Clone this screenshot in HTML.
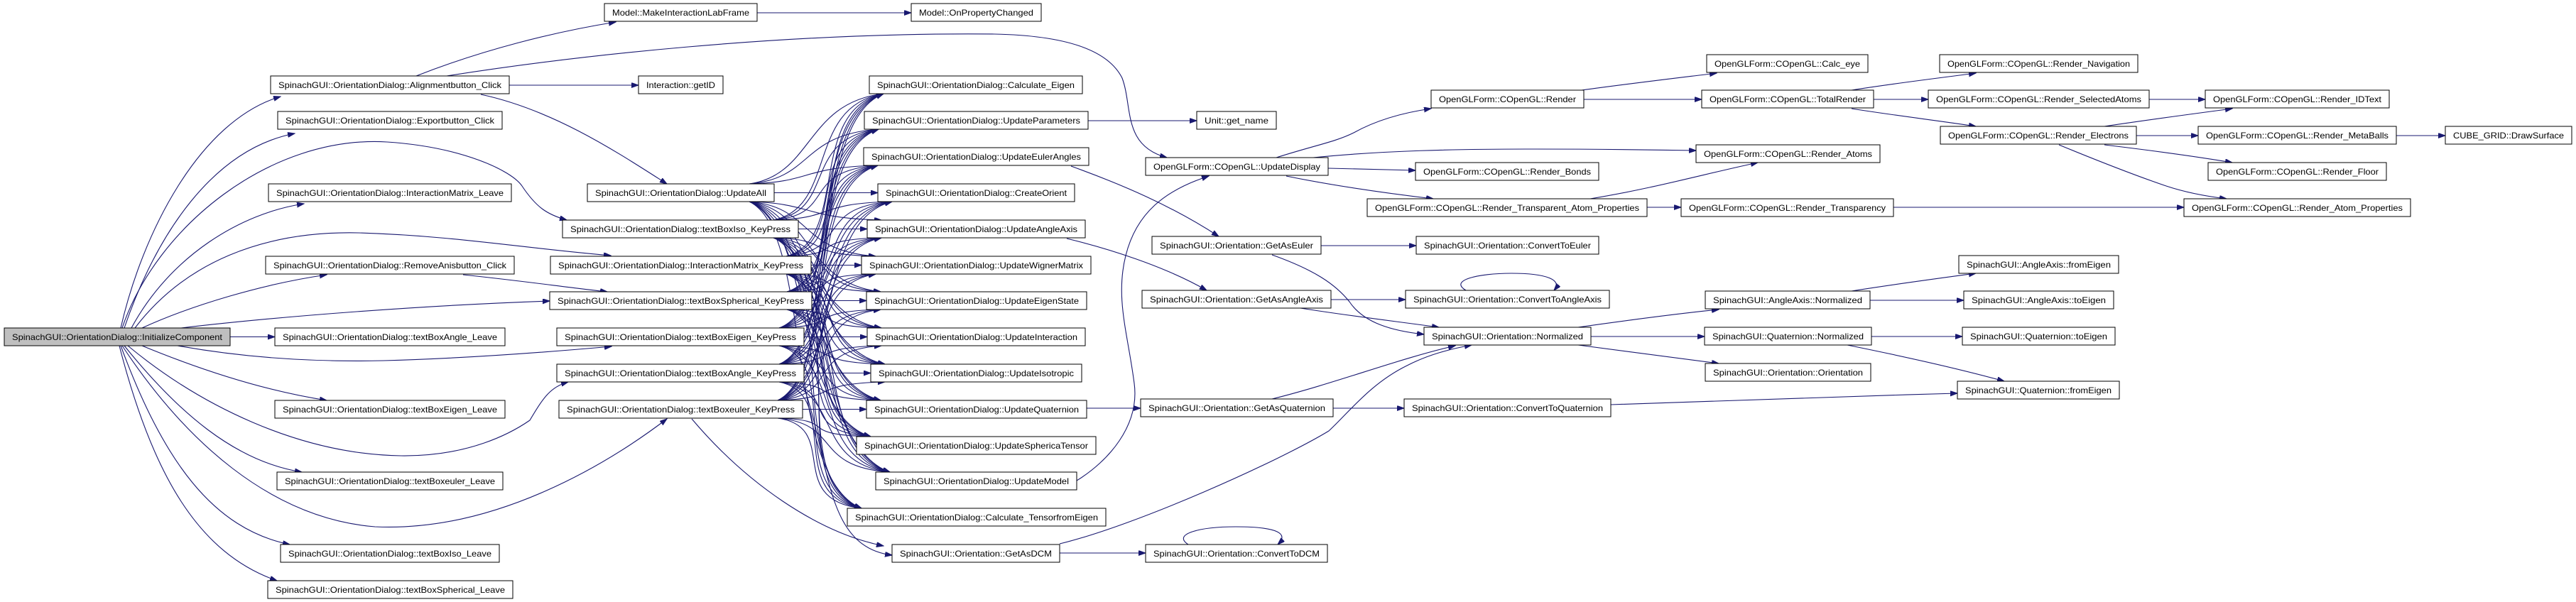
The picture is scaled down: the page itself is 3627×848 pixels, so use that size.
<!DOCTYPE html>
<html><head><meta charset="utf-8"><style>
html,body{margin:0;padding:0;background:#fff;}
svg{display:block}
text{font-family:"Liberation Sans",sans-serif;font-size:12px;fill:#000}
.n{fill:#fff;stroke:#000;stroke-width:1}
.e{fill:none;stroke:#191970;stroke-width:1.1}
</style></head><body>
<svg id="g" width="3627" height="848" viewBox="0 0 3627 848" xmlns="http://www.w3.org/2000/svg">
<defs><marker id="a" markerUnits="userSpaceOnUse" markerWidth="11" markerHeight="8" refX="10" refY="3.5" orient="auto"><path d="M0,0 L10,3.5 L0,7 z" fill="#191970" stroke="#191970"/></marker></defs>
<g id="edges" marker-end="url(#a)">
<path class="e" d="M170,462 C200,330 280,170 395,136"/>
<path class="e" d="M175,462 C220,330 300,210 415,188"/>
<path class="e" d="M172,462 C220,320 380,190 545,200 C650,207 720,240 735,262 C755,292 770,302 798,310"/>
<path class="e" d="M185,462 C240,360 340,300 428,287"/>
<path class="e" d="M190,462 C260,370 370,325 505,328 C640,332 740,350 860,360"/>
<path class="e" d="M200,462 C270,430 370,400 460,387"/>
<path class="e" d="M255,462 C400,445 600,430 774,424"/>
<path class="e" d="M324,474.5 L387,474.5"/>
<path class="e" d="M250,487 C350,505 450,510 540,508 C650,505 760,497 861,488"/>
<path class="e" d="M200,487 C280,520 370,550 460,564"/>
<path class="e" d="M180,487 C280,570 420,640 565,642 C660,643 720,610 746,592 C765,560 775,545 800,538"/>
<path class="e" d="M175,487 C250,580 330,650 425,665"/>
<path class="e" d="M172,487 C260,620 380,730 528,742 C700,750 860,650 939,590"/>
<path class="e" d="M170,487 C230,650 300,745 408,767"/>
<path class="e" d="M168,487 C215,670 280,780 390,818"/>
<path class="e" d="M586,107 C680,70 780,45 867,31"/>
<path class="e" d="M629,107 C800,80 1100,45 1400,48 C1500,50 1560,70 1580,110 C1595,150 1580,205 1643,222"/>
<path class="e" d="M717,120 L899,120"/>
<path class="e" d="M677,133 C780,155 870,215 939,259"/>
<path class="e" d="M1066,18 L1283,18"/>
<path class="e" d="M652,387 C730,395 800,405 855,411"/>
<path class="e" d="M974,590 C1050,680 1150,750 1244,769"/>
<path class="e" d="M1130,540 C1170,650 1160,770 1256,782"/>
<path class="e" d="M1532,170 L1685,170"/>
<path class="e" d="M1508,234 C1580,260 1650,290 1716,333"/>
<path class="e" d="M1502,336 C1560,350 1640,375 1699,409"/>
<path class="e" d="M1516,575 L1606,575"/>
<path class="e" d="M1516,677 C1560,650 1605,600 1597,540 C1588,470 1570,420 1585,360 C1600,300 1640,268 1702,248"/>
<path class="e" d="M1492,766 C1600,740 1800,650 1871,607 C1900,580 1930,540 1981,515 C2010,500 2040,492 2072,486"/>
<path class="e" d="M1791,562 C1880,540 1970,505 2049,487"/>
<path class="e" d="M1791,359 C1850,380 1880,400 1900,425 C1920,455 1960,466 2005,471"/>
<path class="e" d="M1831,434 C1900,445 1960,452 2026,461"/>
<path class="e" d="M1860,346 L1994,346"/>
<path class="e" d="M1874,422 L1979,422"/>
<path class="e" d="M1877,575 L1977,575"/>
<path class="e" d="M1869,779 L1613,779" marker-end="none" style="display:none"/>
<path class="e" d="M1492,779 L1613,779"/>
<path class="e" d="M2064,409 C2040,395 2080,385 2128,385 C2180,385 2200,395 2188,409"/>
<path class="e" d="M1673,767 C1650,752 1690,742 1740,742 C1800,742 1815,752 1799,767"/>
<path class="e" d="M1797,222 C1850,205 1880,200 1906,187 C1940,168 1980,158 2015,153"/>
<path class="e" d="M1849,222 C1950,212 2050,210 2150,210 C2250,210 2330,211 2388,212"/>
<path class="e" d="M1870,237 L1993,240"/>
<path class="e" d="M1811,248 C1880,262 1950,272 2018,280"/>
<path class="e" d="M2227,127 C2300,117 2360,110 2417,103"/>
<path class="e" d="M2230,140 L2396,140"/>
<path class="e" d="M2607,127 C2670,117 2730,110 2782,103"/>
<path class="e" d="M2638,140 L2715,140"/>
<path class="e" d="M2607,153 C2670,163 2730,170 2782,178"/>
<path class="e" d="M2239,280 C2330,265 2400,245 2475,229"/>
<path class="e" d="M2319,292 L2367,292"/>
<path class="e" d="M2666,292 L3075,292"/>
<path class="e" d="M3026,140 L3105,140"/>
<path class="e" d="M2963,178 C3030,168 3090,160 3143,153"/>
<path class="e" d="M3008,191 L3095,191"/>
<path class="e" d="M2963,204 C3030,212 3090,220 3143,229"/>
<path class="e" d="M2899,204 C2950,225 3000,245 3050,262 C3080,272 3110,277 3135,280"/>
<path class="e" d="M3374,191 L3443,191"/>
<path class="e" d="M2222,461 C2300,450 2360,442 2420,436"/>
<path class="e" d="M2240,474 L2400,474"/>
<path class="e" d="M2222,486 C2300,496 2360,504 2420,512"/>
<path class="e" d="M2268,570 C2450,565 2600,558 2756,554"/>
<path class="e" d="M2607,410 C2670,400 2730,392 2782,385"/>
<path class="e" d="M2633,423 L2765,423"/>
<path class="e" d="M2635,474 L2763,474"/>
<path class="e" d="M2601,486 C2680,502 2760,520 2822,537"/>
</g>
<g id="tangle" marker-end="url(#a)"></g>

<g>
<rect x="6" y="462" width="318" height="25" fill="#bfbfbf" stroke="#000"/><text x="17" y="479" textLength="296" lengthAdjust="spacingAndGlyphs">SpinachGUI::OrientationDialog::InitializeComponent</text>
<rect class="n" x="381" y="107" width="336" height="25"/><text x="392" y="124" textLength="314" lengthAdjust="spacingAndGlyphs">SpinachGUI::OrientationDialog::Alignmentbutton_Click</text>
<rect class="n" x="391" y="157" width="316" height="25"/><text x="402" y="174" textLength="294" lengthAdjust="spacingAndGlyphs">SpinachGUI::OrientationDialog::Exportbutton_Click</text>
<rect class="n" x="378" y="259" width="342" height="25"/><text x="389" y="276" textLength="320" lengthAdjust="spacingAndGlyphs">SpinachGUI::OrientationDialog::InteractionMatrix_Leave</text>
<rect class="n" x="374" y="361" width="350" height="25"/><text x="385" y="378" textLength="328" lengthAdjust="spacingAndGlyphs">SpinachGUI::OrientationDialog::RemoveAnisbutton_Click</text>
<rect class="n" x="387" y="462" width="324" height="25"/><text x="398" y="479" textLength="302" lengthAdjust="spacingAndGlyphs">SpinachGUI::OrientationDialog::textBoxAngle_Leave</text>
<rect class="n" x="387" y="564" width="324" height="25"/><text x="398" y="581" textLength="302" lengthAdjust="spacingAndGlyphs">SpinachGUI::OrientationDialog::textBoxEigen_Leave</text>
<rect class="n" x="390" y="665" width="318" height="25"/><text x="401" y="682" textLength="296" lengthAdjust="spacingAndGlyphs">SpinachGUI::OrientationDialog::textBoxeuler_Leave</text>
<rect class="n" x="395" y="767" width="308" height="25"/><text x="406" y="784" textLength="286" lengthAdjust="spacingAndGlyphs">SpinachGUI::OrientationDialog::textBoxIso_Leave</text>
<rect class="n" x="377" y="818" width="345" height="25"/><text x="388" y="835" textLength="323" lengthAdjust="spacingAndGlyphs">SpinachGUI::OrientationDialog::textBoxSpherical_Leave</text>

<rect class="n" x="851" y="5" width="215" height="25"/><text x="862" y="22" textLength="193" lengthAdjust="spacingAndGlyphs">Model::MakeInteractionLabFrame</text>
<rect class="n" x="1283" y="5" width="183" height="25"/><text x="1294" y="22" textLength="161" lengthAdjust="spacingAndGlyphs">Model::OnPropertyChanged</text>
<rect class="n" x="899" y="107" width="119" height="25"/><text x="910" y="124" textLength="97" lengthAdjust="spacingAndGlyphs">Interaction::getID</text>
<rect class="n" x="827" y="259" width="263" height="25"/><text x="838" y="276" textLength="241" lengthAdjust="spacingAndGlyphs">SpinachGUI::OrientationDialog::UpdateAll</text>
<rect class="n" x="792" y="310" width="332" height="25"/><text x="803" y="327" textLength="310" lengthAdjust="spacingAndGlyphs">SpinachGUI::OrientationDialog::textBoxIso_KeyPress</text>
<rect class="n" x="775" y="361" width="367" height="25"/><text x="786" y="378" textLength="345" lengthAdjust="spacingAndGlyphs">SpinachGUI::OrientationDialog::InteractionMatrix_KeyPress</text>
<rect class="n" x="774" y="411" width="369" height="25"/><text x="785" y="428" textLength="347" lengthAdjust="spacingAndGlyphs">SpinachGUI::OrientationDialog::textBoxSpherical_KeyPress</text>
<rect class="n" x="784" y="462" width="348" height="25"/><text x="795" y="479" textLength="326" lengthAdjust="spacingAndGlyphs">SpinachGUI::OrientationDialog::textBoxEigen_KeyPress</text>
<rect class="n" x="784" y="513" width="348" height="25"/><text x="795" y="530" textLength="326" lengthAdjust="spacingAndGlyphs">SpinachGUI::OrientationDialog::textBoxAngle_KeyPress</text>
<rect class="n" x="787" y="564" width="343" height="25"/><text x="798" y="581" textLength="321" lengthAdjust="spacingAndGlyphs">SpinachGUI::OrientationDialog::textBoxeuler_KeyPress</text>

<rect class="n" x="1224" y="107" width="300" height="25"/><text x="1235" y="124" textLength="278" lengthAdjust="spacingAndGlyphs">SpinachGUI::OrientationDialog::Calculate_Eigen</text>
<rect class="n" x="1217" y="157" width="315" height="25"/><text x="1228" y="174" textLength="293" lengthAdjust="spacingAndGlyphs">SpinachGUI::OrientationDialog::UpdateParameters</text>
<rect class="n" x="1216" y="208" width="317" height="25"/><text x="1227" y="225" textLength="295" lengthAdjust="spacingAndGlyphs">SpinachGUI::OrientationDialog::UpdateEulerAngles</text>
<rect class="n" x="1236" y="259" width="277" height="25"/><text x="1247" y="276" textLength="255" lengthAdjust="spacingAndGlyphs">SpinachGUI::OrientationDialog::CreateOrient</text>
<rect class="n" x="1221" y="310" width="307" height="25"/><text x="1232" y="327" textLength="285" lengthAdjust="spacingAndGlyphs">SpinachGUI::OrientationDialog::UpdateAngleAxis</text>
<rect class="n" x="1213" y="361" width="323" height="25"/><text x="1224" y="378" textLength="301" lengthAdjust="spacingAndGlyphs">SpinachGUI::OrientationDialog::UpdateWignerMatrix</text>
<rect class="n" x="1220" y="411" width="310" height="25"/><text x="1231" y="428" textLength="288" lengthAdjust="spacingAndGlyphs">SpinachGUI::OrientationDialog::UpdateEigenState</text>
<rect class="n" x="1221" y="462" width="307" height="25"/><text x="1232" y="479" textLength="285" lengthAdjust="spacingAndGlyphs">SpinachGUI::OrientationDialog::UpdateInteraction</text>
<rect class="n" x="1226" y="513" width="297" height="25"/><text x="1237" y="530" textLength="275" lengthAdjust="spacingAndGlyphs">SpinachGUI::OrientationDialog::UpdateIsotropic</text>
<rect class="n" x="1220" y="564" width="310" height="25"/><text x="1231" y="581" textLength="288" lengthAdjust="spacingAndGlyphs">SpinachGUI::OrientationDialog::UpdateQuaternion</text>
<rect class="n" x="1206" y="615" width="337" height="25"/><text x="1217" y="632" textLength="315" lengthAdjust="spacingAndGlyphs">SpinachGUI::OrientationDialog::UpdateSphericaTensor</text>
<rect class="n" x="1233" y="665" width="283" height="25"/><text x="1244" y="682" textLength="261" lengthAdjust="spacingAndGlyphs">SpinachGUI::OrientationDialog::UpdateModel</text>
<rect class="n" x="1193" y="716" width="364" height="25"/><text x="1204" y="733" textLength="342" lengthAdjust="spacingAndGlyphs">SpinachGUI::OrientationDialog::Calculate_TensorfromEigen</text>
<rect class="n" x="1256" y="767" width="236" height="25"/><text x="1267" y="784" textLength="214" lengthAdjust="spacingAndGlyphs">SpinachGUI::Orientation::GetAsDCM</text>

<rect class="n" x="1685" y="157" width="112" height="25"/><text x="1696" y="174" textLength="90" lengthAdjust="spacingAndGlyphs">Unit::get_name</text>
<rect class="n" x="1613" y="222" width="257" height="25"/><text x="1624" y="239" textLength="235" lengthAdjust="spacingAndGlyphs">OpenGLForm::COpenGL::UpdateDisplay</text>
<rect class="n" x="2015" y="127" width="215" height="25"/><text x="2026" y="144" textLength="193" lengthAdjust="spacingAndGlyphs">OpenGLForm::COpenGL::Render</text>
<rect class="n" x="1993" y="229" width="258" height="25"/><text x="2004" y="246" textLength="236" lengthAdjust="spacingAndGlyphs">OpenGLForm::COpenGL::Render_Bonds</text>
<rect class="n" x="1925" y="280" width="394" height="25"/><text x="1936" y="297" textLength="372" lengthAdjust="spacingAndGlyphs">OpenGLForm::COpenGL::Render_Transparent_Atom_Properties</text>
<rect class="n" x="1622" y="333" width="238" height="25"/><text x="1633" y="350" textLength="216" lengthAdjust="spacingAndGlyphs">SpinachGUI::Orientation::GetAsEuler</text>
<rect class="n" x="1994" y="333" width="257" height="25"/><text x="2005" y="350" textLength="235" lengthAdjust="spacingAndGlyphs">SpinachGUI::Orientation::ConvertToEuler</text>
<rect class="n" x="1608" y="409" width="266" height="25"/><text x="1619" y="426" textLength="244" lengthAdjust="spacingAndGlyphs">SpinachGUI::Orientation::GetAsAngleAxis</text>
<rect class="n" x="1979" y="409" width="287" height="25"/><text x="1990" y="426" textLength="265" lengthAdjust="spacingAndGlyphs">SpinachGUI::Orientation::ConvertToAngleAxis</text>
<rect class="n" x="2005" y="461" width="235" height="25"/><text x="2016" y="478" textLength="213" lengthAdjust="spacingAndGlyphs">SpinachGUI::Orientation::Normalized</text>
<rect class="n" x="1606" y="562" width="271" height="25"/><text x="1617" y="579" textLength="249" lengthAdjust="spacingAndGlyphs">SpinachGUI::Orientation::GetAsQuaternion</text>
<rect class="n" x="1977" y="562" width="291" height="25"/><text x="1988" y="579" textLength="269" lengthAdjust="spacingAndGlyphs">SpinachGUI::Orientation::ConvertToQuaternion</text>
<rect class="n" x="1613" y="767" width="256" height="25"/><text x="1624" y="784" textLength="234" lengthAdjust="spacingAndGlyphs">SpinachGUI::Orientation::ConvertToDCM</text>

<rect class="n" x="2403" y="77" width="227" height="25"/><text x="2414" y="94" textLength="205" lengthAdjust="spacingAndGlyphs">OpenGLForm::COpenGL::Calc_eye</text>
<rect class="n" x="2396" y="127" width="242" height="25"/><text x="2407" y="144" textLength="220" lengthAdjust="spacingAndGlyphs">OpenGLForm::COpenGL::TotalRender</text>
<rect class="n" x="2388" y="204" width="259" height="25"/><text x="2399" y="221" textLength="237" lengthAdjust="spacingAndGlyphs">OpenGLForm::COpenGL::Render_Atoms</text>
<rect class="n" x="2367" y="280" width="299" height="25"/><text x="2378" y="297" textLength="277" lengthAdjust="spacingAndGlyphs">OpenGLForm::COpenGL::Render_Transparency</text>
<rect class="n" x="2731" y="77" width="279" height="25"/><text x="2742" y="94" textLength="257" lengthAdjust="spacingAndGlyphs">OpenGLForm::COpenGL::Render_Navigation</text>
<rect class="n" x="2715" y="127" width="311" height="25"/><text x="2726" y="144" textLength="289" lengthAdjust="spacingAndGlyphs">OpenGLForm::COpenGL::Render_SelectedAtoms</text>
<rect class="n" x="2732" y="178" width="276" height="25"/><text x="2743" y="195" textLength="254" lengthAdjust="spacingAndGlyphs">OpenGLForm::COpenGL::Render_Electrons</text>
<rect class="n" x="2758" y="360" width="225" height="25"/><text x="2769" y="377" textLength="203" lengthAdjust="spacingAndGlyphs">SpinachGUI::AngleAxis::fromEigen</text>
<rect class="n" x="2401" y="410" width="232" height="25"/><text x="2412" y="427" textLength="210" lengthAdjust="spacingAndGlyphs">SpinachGUI::AngleAxis::Normalized</text>
<rect class="n" x="2765" y="410" width="211" height="25"/><text x="2776" y="427" textLength="189" lengthAdjust="spacingAndGlyphs">SpinachGUI::AngleAxis::toEigen</text>
<rect class="n" x="2400" y="461" width="235" height="25"/><text x="2411" y="478" textLength="213" lengthAdjust="spacingAndGlyphs">SpinachGUI::Quaternion::Normalized</text>
<rect class="n" x="2763" y="461" width="215" height="25"/><text x="2774" y="478" textLength="193" lengthAdjust="spacingAndGlyphs">SpinachGUI::Quaternion::toEigen</text>
<rect class="n" x="2401" y="512" width="233" height="25"/><text x="2412" y="529" textLength="211" lengthAdjust="spacingAndGlyphs">SpinachGUI::Orientation::Orientation</text>
<rect class="n" x="2756" y="537" width="228" height="25"/><text x="2767" y="554" textLength="206" lengthAdjust="spacingAndGlyphs">SpinachGUI::Quaternion::fromEigen</text>
<rect class="n" x="3105" y="127" width="259" height="25"/><text x="3116" y="144" textLength="237" lengthAdjust="spacingAndGlyphs">OpenGLForm::COpenGL::Render_IDText</text>
<rect class="n" x="3095" y="178" width="279" height="25"/><text x="3106" y="195" textLength="257" lengthAdjust="spacingAndGlyphs">OpenGLForm::COpenGL::Render_MetaBalls</text>
<rect class="n" x="3443" y="178" width="178" height="25"/><text x="3454" y="195" textLength="156" lengthAdjust="spacingAndGlyphs">CUBE_GRID::DrawSurface</text>
<rect class="n" x="3109" y="229" width="251" height="25"/><text x="3120" y="246" textLength="229" lengthAdjust="spacingAndGlyphs">OpenGLForm::COpenGL::Render_Floor</text>
<rect class="n" x="3075" y="280" width="319" height="25"/><text x="3086" y="297" textLength="297" lengthAdjust="spacingAndGlyphs">OpenGLForm::COpenGL::Render_Atom_Properties</text>
</g>
</svg>
<script>
(function(){
var S=[[1090,259],[1124,310],[1142,361],[1143,411],[1132,462],[1132,513],[1130,564]];
var T=[[1224,107],[1217,157],[1216,208],[1236,259],[1221,310],[1213,361],[1220,411],[1221,462],[1226,513],[1220,564],[1206,615],[1233,665],[1193,716]];
var g=document.getElementById('tangle'),ns='http://www.w3.org/2000/svg';
S.forEach(function(s){T.forEach(function(t){
var ty=t[1]+12.5,sx,sy,d;
if(t[1]==s[1]){d='M'+s[0]+','+ty+' L'+t[0]+','+ty;}
else{sx=s[0]-35;sy=t[1]<s[1]?s[1]:s[1]+25;
var tx=t[0]+(t[1]<s[1]?20:20),tyy=t[1]<s[1]?t[1]+25:t[1];
d='M'+sx+','+sy+' C'+(sx+90)+','+(sy+(tyy-sy)*0.1)+' '+(tx-110)+','+(tyy-(tyy-sy)*0.1)+' '+tx+','+tyy;}
var p=document.createElementNS(ns,'path');p.setAttribute('class','e');p.setAttribute('d',d);g.appendChild(p);});});
})();
</script>
</body></html>
